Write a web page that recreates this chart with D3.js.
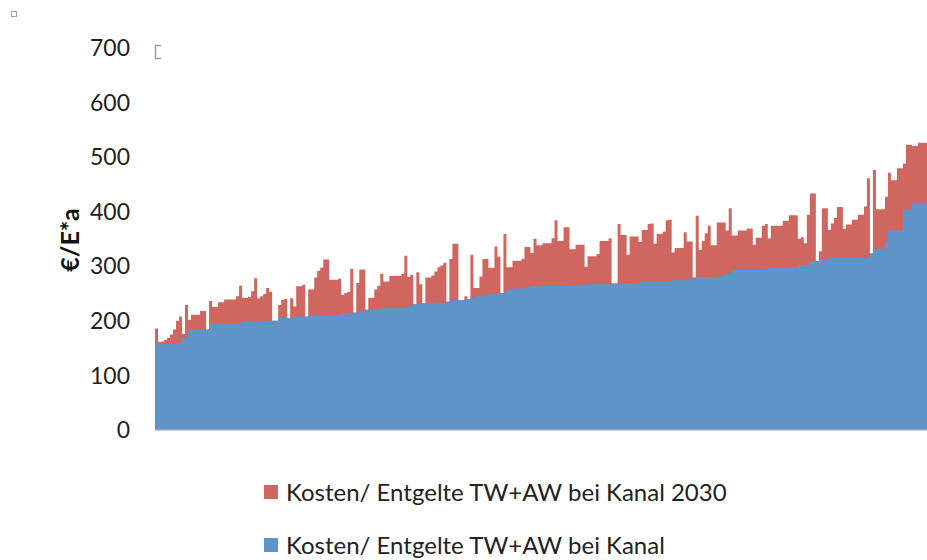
<!DOCTYPE html>
<html><head><meta charset="utf-8">
<script src="https://cdn.jsdelivr.net/npm/d3@7"></script>
<style>html,body{margin:0;padding:0;background:#fff}svg{display:block}</style>
</head><body>
<svg id="chart" width="927" height="560"></svg>
<script>
// Kosten/ Entgelte TW+AW bei Kanal (base) — one value per municipality, sorted
const kanal = [
157,157,158,158,158,158,158,158,158,167,
167,183,183,183,183,183,183,183,195,195,
195,195,195,195,195,195,195,195,195,198,
198,198,198,198,198,199,199,199,199,199,
199,204,204,204,204,204,207,207,207,207,
207,209,209,209,209,209,209,210,210,210,
210,210,213,213,213,213,214,214,217,217,
219,219,219,219,219,222,222,222,222,222,
222,222,222,222,225,226,229,229,229,231,
231,231,231,232,232,232,232,234,234,237,
237,237,237,239,239,241,241,245,245,245,
245,248,248,248,248,250,250,256,256,258,
258,258,258,260,260,262,262,262,262,262,
262,262,262,263,263,263,263,263,264,264,
264,264,264,266,266,266,266,266,266,266,
266,266,267,267,267,267,267,268,268,268,
268,271,271,271,271,271,271,271,271,271,
271,271,273,273,273,273,273,275,275,278,
278,279,279,279,279,279,279,281,281,281,
285,285,292,292,292,292,292,292,292,292,
292,292,292,292,297,297,297,297,297,297,
297,297,297,297,301,301,301,301,308,308,
308,312,312,312,315,315,315,315,315,315,
315,315,315,315,315,315,315,315,322,331,
331,331,331,344,364,364,364,364,364,402,
402,402,415,415,415,415,415
];
// Kosten/ Entgelte TW+AW bei Kanal 2030 (total)
const kanal2030 = [
185,160,161,164,168,174,183,199,207,175,
228,201,210,210,210,217,217,183,235,224,
224,233,233,238,238,238,238,244,263,241,
241,243,253,277,240,244,248,259,252,199,
199,228,237,239,204,240,225,262,262,265,
207,256,256,278,290,296,311,311,274,274,
274,276,246,250,252,294,214,268,293,293,
219,241,241,256,263,285,271,271,281,281,
281,281,285,318,279,283,229,288,266,231,
278,278,282,289,297,300,305,234,312,340,
340,237,237,244,239,320,259,259,280,312,
312,296,296,335,316,250,358,297,297,309,
309,309,312,334,334,323,349,337,337,341,
341,341,350,383,345,345,370,370,330,330,
338,338,338,298,317,317,317,321,345,345,
345,350,267,267,376,356,356,320,353,353,
353,343,365,365,376,377,340,358,358,362,
383,384,324,332,332,332,361,344,344,278,
391,329,345,359,373,337,337,379,379,379,
364,405,355,355,364,364,364,368,368,338,
351,351,373,376,350,373,373,373,373,382,
382,392,392,392,349,352,341,393,432,432,
308,326,405,405,365,377,387,407,407,367,
375,375,384,384,393,393,408,460,322,475,
403,403,403,426,470,456,456,478,478,487,
521,521,519,519,525,525,525
];
const categories = kanal.map((_, i) => i + 1);
const yTicks = [0, 100, 200, 300, 400, 500, 600, 700];
const yTitle = "€/E*a";
const legendLabels = ["Kosten/ Entgelte TW+AW bei Kanal 2030", "Kosten/ Entgelte TW+AW bei Kanal"];

const COL_RED = "#CF6760";
const COL_BLUE = "#5E94C7";
const FONT = "Lato, 'Open Sans', sans-serif";

const svg = d3.select("#chart");
svg.append("rect").attr("width", 927).attr("height", 560).attr("fill", "#fff");

const x = d3.scaleBand().domain(categories).range([155, 927]).padding(0);
const y = d3.scaleLinear().domain([0, 700]).range([429.5, 47]);
const bw = x.bandwidth();

// step outline: each bar spans [x(c), x(c)+bw]
function stepPoints(vals) {
  const pts = categories.map((c, i) => [x(c), vals[i]]);
  pts.push([x(categories[categories.length - 1]) + bw, vals[vals.length - 1]]);
  return pts;
}
const area = d3.area()
  .x(d => d[0]).y0(y(0)).y1(d => y(d[1]))
  .curve(d3.curveStepAfter);

// total (2030) drawn behind
svg.append("path").datum(stepPoints(kanal2030)).attr("d", area).attr("fill", COL_RED);
// base in front
svg.append("path").datum(stepPoints(kanal)).attr("d", area).attr("fill", COL_BLUE);

// category axis line
svg.append("line")
  .attr("x1", 155).attr("x2", 927)
  .attr("y1", y(0) + 0.5).attr("y2", y(0) + 0.5)
  .attr("stroke", "#8e9bb0").attr("stroke-width", 1);

// value axis labels
const yAxis = d3.axisLeft(y).tickValues(yTicks).tickSize(0).tickPadding(25).tickFormat(d3.format("d"));
const ya = svg.append("g").attr("transform", "translate(155,1)").call(yAxis);
ya.select(".domain").remove();
ya.selectAll("text").attr("font-family", FONT).attr("font-size", 23).attr("fill", "#222");

// axis title
svg.append("text")
  .attr("transform", "translate(79,240) rotate(-90)")
  .attr("text-anchor", "middle")
  .attr("font-family", FONT).attr("font-weight", "bold").attr("font-size", 25)
  .attr("fill", "#111")
  .text(yTitle);

// legend
const legendColors = [COL_RED, COL_BLUE];
const lg = svg.append("g").selectAll("g").data(legendLabels).join("g")
  .attr("transform", (d, i) => `translate(264,${485 + i * 53})`);
lg.append("rect").attr("width", 14).attr("height", 14).attr("fill", (d, i) => legendColors[i]);
lg.append("text").attr("x", 22).attr("y", 16)
  .attr("font-family", FONT).attr("font-size", 24).attr("fill", "#222")
  .text(d => d);

// small anchor marks seen in the original
svg.append("rect").attr("x", 11.5).attr("y", 11.5).attr("width", 5).attr("height", 5)
  .attr("fill", "none").attr("stroke", "#a0a0a0").attr("stroke-width", 1);
svg.append("path").attr("d", "M161,45.5 H155.5 V58.5 H161")
  .attr("fill", "none").attr("stroke", "#a0a0a0").attr("stroke-width", 1.5);
</script>
</body></html>
